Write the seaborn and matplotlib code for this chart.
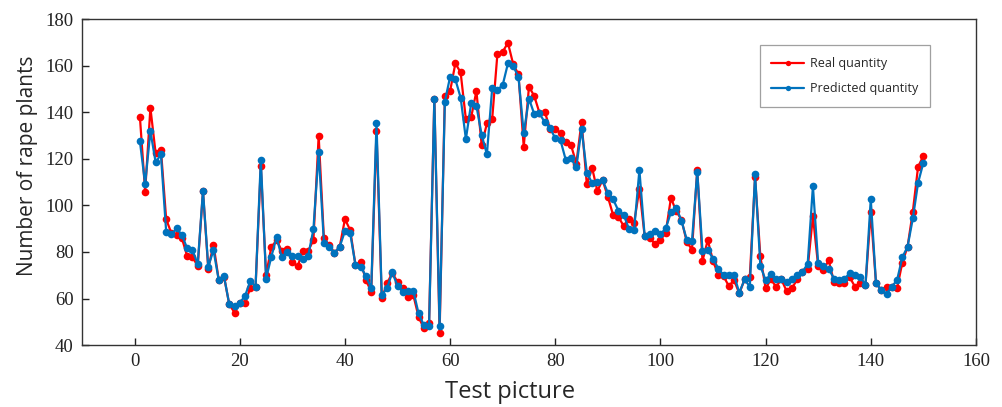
import numpy as np
import pandas as pd
import matplotlib
matplotlib.use("Agg")
import matplotlib.pyplot as plt
import seaborn as sns

# Test picture index (1..150)
picture_ids = list(range(1, 151))

# Real (counted) number of rape plants per test picture
real_quantity = [
    138.1, 105.9, 141.9, 122.3, 124.0, 94.1, 88.0, 87.3, 85.8, 78.2,
    77.9, 73.9, 106.0, 72.9, 83.2, 67.9, 69.4, 57.5, 54.0, 58.2,
    58.2, 64.6, 65.1, 117.0, 70.1, 82.2, 85.0, 80.5, 81.1, 75.5,
    73.9, 80.4, 80.4, 85.1, 129.9, 85.8, 83.0, 79.7, 82.2, 94.1,
    89.4, 74.4, 75.5, 67.9, 62.9, 131.9, 60.1, 66.5, 71.0, 67.2,
    64.4, 60.5, 61.5, 52.2, 47.2, 49.3, 145.7, 45.3, 146.9, 149.1,
    161.0, 157.1, 137.0, 137.8, 149.1, 125.9, 135.2, 137.1, 165.2, 166.0,
    169.8, 160.6, 156.3, 125.2, 151.0, 147.0, 139.7, 140.2, 133.0, 133.0,
    131.0, 127.1, 125.9, 118.0, 136.0, 109.0, 116.2, 106.2, 110.9, 103.7,
    95.9, 95.1, 91.2, 94.2, 92.6, 107.1, 86.8, 85.8, 83.4, 85.1,
    88.3, 103.2, 97.5, 93.9, 84.4, 81.0, 115.2, 76.2, 85.1, 76.2,
    70.1, 69.6, 65.4, 67.9, 62.2, 68.2, 69.4, 112.0, 78.2, 64.4,
    68.2, 65.1, 68.2, 63.2, 64.4, 68.2, 71.5, 72.9, 95.4, 73.9,
    72.3, 76.4, 67.2, 66.5, 66.5, 69.1, 65.1, 66.5, 65.8, 97.3,
    66.5, 63.8, 65.1, 65.1, 64.4, 75.4, 82.3, 97.3, 116.6, 121.2,
]

# Model-predicted number of rape plants per test picture
predicted_quantity = [
    127.6, 109.2, 131.9, 118.5, 121.9, 88.7, 87.7, 90.1, 87.3, 81.5,
    80.8, 74.8, 106.4, 73.7, 80.8, 67.9, 69.6, 57.5, 56.8, 58.2,
    61.1, 67.6, 65.1, 119.7, 68.6, 78.0, 86.3, 77.7, 80.1, 78.4,
    78.4, 77.2, 78.3, 89.7, 122.9, 84.0, 82.2, 79.7, 82.2, 89.0,
    88.0, 74.4, 73.7, 69.6, 64.4, 135.2, 61.5, 64.4, 71.2, 65.4,
    62.9, 63.4, 63.4, 53.6, 48.6, 48.2, 145.7, 48.2, 144.6, 155.2,
    154.1, 146.3, 128.5, 143.8, 142.8, 130.2, 122.0, 150.3, 149.6, 151.7,
    161.0, 159.8, 155.2, 131.0, 145.9, 139.2, 139.5, 135.7, 133.3, 128.8,
    127.9, 119.5, 120.2, 116.3, 133.0, 114.1, 109.6, 110.1, 110.9, 105.4,
    102.6, 97.8, 96.0, 90.0, 89.6, 115.2, 86.8, 87.7, 89.0, 87.7,
    90.1, 97.0, 99.1, 93.4, 85.3, 84.7, 114.5, 80.4, 80.8, 77.2,
    72.9, 70.1, 70.1, 70.1, 62.5, 68.2, 65.1, 113.3, 74.1, 67.9,
    70.5, 68.6, 68.6, 67.2, 68.6, 70.1, 71.5, 74.8, 108.3, 75.1,
    74.0, 72.8, 68.6, 67.9, 68.6, 70.8, 70.1, 69.4, 65.8, 102.7,
    66.5, 63.6, 61.9, 65.1, 67.9, 77.7, 82.3, 94.4, 109.7, 118.3,
]

series_names = ["Real quantity", "Predicted quantity"]
series_colors = ["#ff0000", "#0072bd"]

x_ticks = [0, 20, 40, 60, 80, 100, 120, 140, 160]
y_ticks = [40, 60, 80, 100, 120, 140, 160, 180]

df = pd.DataFrame({
    "Test picture": picture_ids * 2,
    "Number of rape plants": real_quantity + predicted_quantity,
    "Series": [series_names[0]] * len(picture_ids) + [series_names[1]] * len(picture_ids),
})

sns.set_style("white")
plt.rcParams["font.family"] = ["Liberation Serif", "DejaVu Serif"]

fig = plt.figure(figsize=(10.03, 4.07), dpi=100)
ax = fig.add_axes([0.0818, 0.152, 0.8912, 0.801])

sns.lineplot(
    data=df, x="Test picture", y="Number of rape plants", hue="Series",
    hue_order=series_names, palette=series_colors, marker="o",
    markersize=5.5, markeredgewidth=0, linewidth=1.6, ax=ax, legend=True,
)

ax.set_xlim(-10, 160)
ax.set_ylim(40, 180)
ax.set_xticks(x_ticks)
ax.set_yticks(y_ticks)
ax.tick_params(axis="both", direction="in", length=5, width=1.0,
               labelsize=13.5, colors="#222222", bottom=True, left=True,
               top=False, right=False, pad=6)
for s in ax.spines.values():
    s.set_color("#333333")
    s.set_linewidth(1.0)

sans = ["Open Sans", "DejaVu Sans"]
ax.set_xlabel("Test picture", fontsize=17, family=sans)
ax.set_ylabel("Number of rape plants", fontsize=15, family=sans)
ax.xaxis.set_label_coords(0.479, -0.144)
ax.yaxis.set_label_coords(-0.0615, 0.549)
ax.xaxis.label.set_verticalalignment("center")
ax.yaxis.label.set_verticalalignment("center")

handles, labels = ax.get_legend_handles_labels()
leg = ax.legend(handles, labels, loc="upper left", bbox_to_anchor=(0.758, 0.92),
                borderaxespad=0, frameon=True, fancybox=False,
                prop={"family": sans, "size": 9},
                handlelength=2.6, handletextpad=0.5, borderpad=0.95,
                labelspacing=0.95, markerscale=0.7)
leg.get_frame().set_edgecolor("#888888")
leg.get_frame().set_linewidth(0.9)

fig.savefig("out.png", dpi=100)
